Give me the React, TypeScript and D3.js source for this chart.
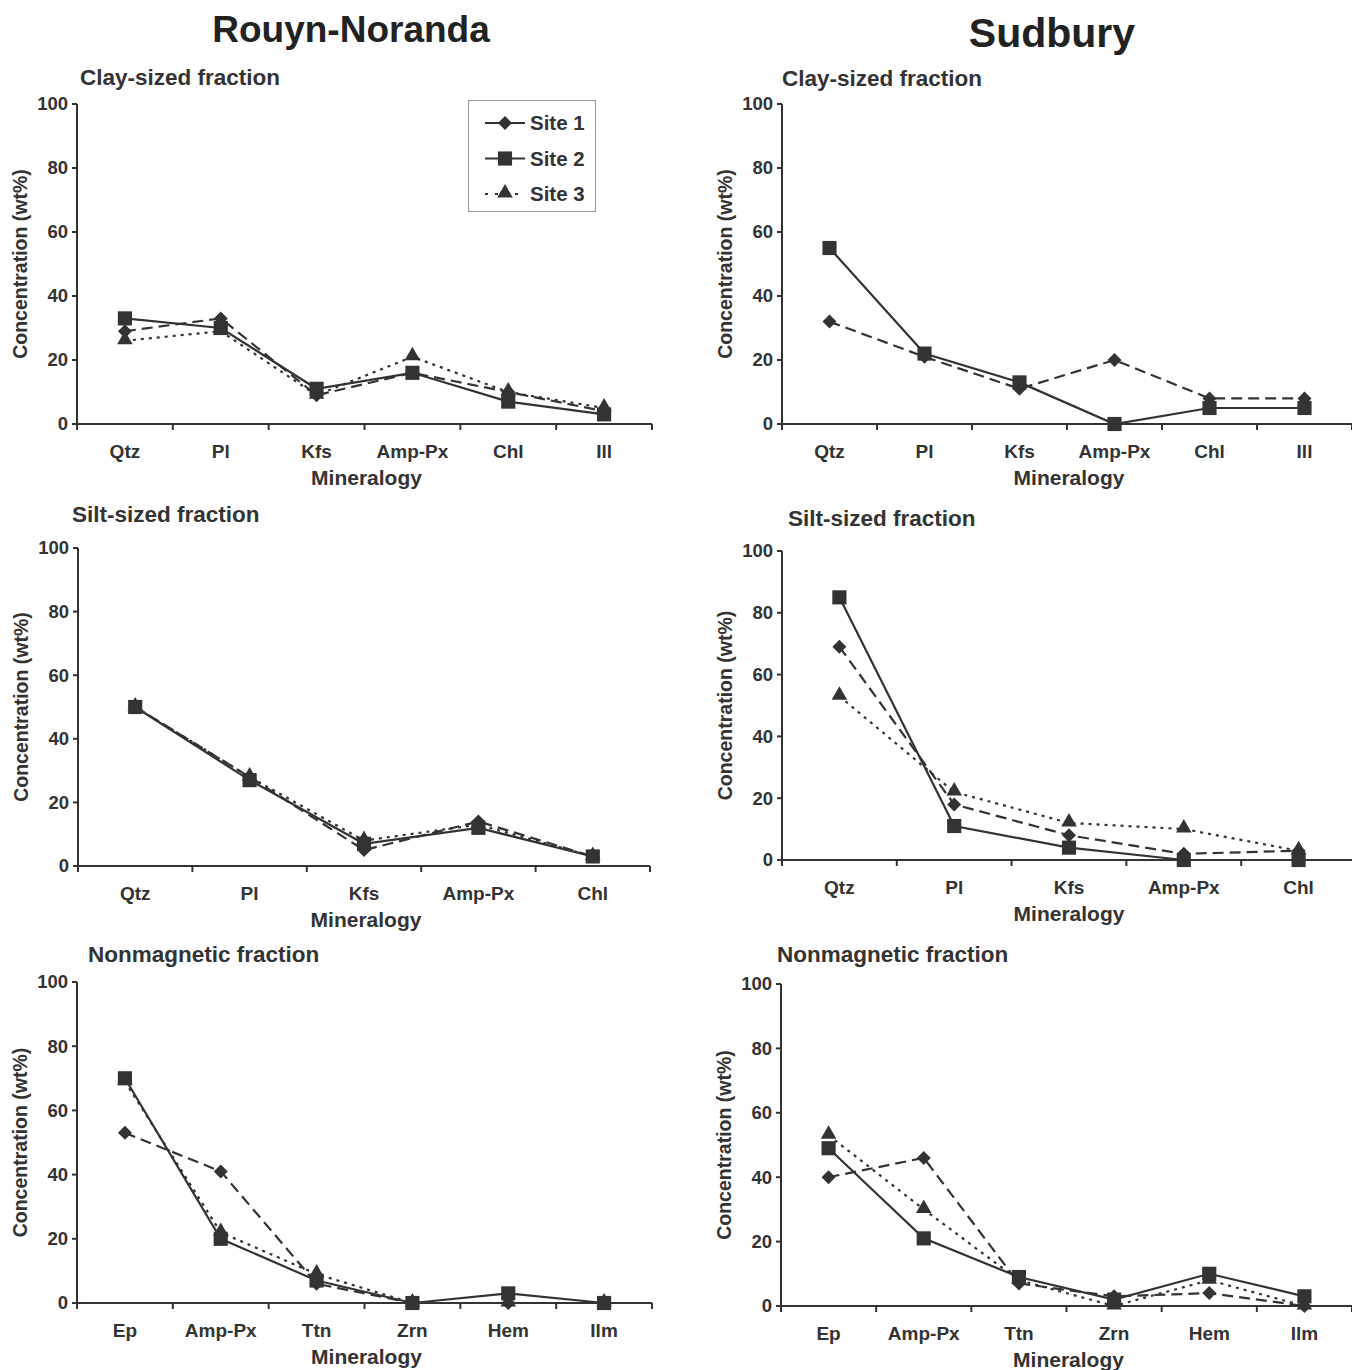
import * as d3 from "d3";
import React from "react";

// category labels
const clayMinerals = ["Qtz", "Pl", "Kfs", "Amp-Px", "Chl", "Ill"];
const siltMinerals = ["Qtz", "Pl", "Kfs", "Amp-Px", "Chl"];
const nonmagMinerals = ["Ep", "Amp-Px", "Ttn", "Zrn", "Hem", "Ilm"];
const yTicks = [0, 20, 40, 60, 80, 100];

// Rouyn-Noranda values (wt%)
const rnClaySite1 = [29, 33, 9, 16, 10, 4];
const rnClaySite2 = [33, 30, 11, 16, 7, 3];
const rnClaySite3 = [26, 29, 9, 21, 10, 5];
const rnSiltSite1 = [50, 28, 5, 14, 3];
const rnSiltSite2 = [50, 27, 7, 12, 3];
const rnSiltSite3 = [50, 28, 8, 13, 3];
const rnNonmagSite1 = [53, 41, 6, 0, 0, 0];
const rnNonmagSite2 = [70, 20, 7, 0, 3, 0];
const rnNonmagSite3 = [69, 22, 9, 0, 0, 0];

// Sudbury values (wt%)
const sdClaySite1 = [32, 21, 11, 20, 8, 8];
const sdClaySite2 = [55, 22, 13, 0, 5, 5];
const sdSiltSite1 = [69, 18, 8, 2, 3];
const sdSiltSite2 = [85, 11, 4, 0, 0];
const sdSiltSite3 = [53, 22, 12, 10, 3];
const sdNonmagSite1 = [40, 46, 7, 3, 4, 0];
const sdNonmagSite2 = [49, 21, 9, 2, 10, 3];
const sdNonmagSite3 = [53, 30, 8, 0, 8, 0];

const siteNames = ["Site 1", "Site 2", "Site 3"];

const INK = "#333";
const FONT = "'Liberation Sans', Arial, sans-serif";

const seriesStyle = [
  { dash: "11,6", symbol: "diamond" },
  { dash: null, symbol: "square" },
  { dash: "3,5", symbol: "triangle" },
];

type Panel = {
  title: string;
  titleX: number;
  titleY: number;
  cats: string[];
  series: (number[] | null)[];
  x0: number;
  x1: number;
  yZero: number;
  yTop: number;
  legend?: boolean;
};

const panels: Panel[] = [
  { title: "Clay-sized fraction", titleX: 80, titleY: 85, cats: clayMinerals, series: [rnClaySite1, rnClaySite2, rnClaySite3], x0: 77, x1: 652, yZero: 424, yTop: 104, legend: true },
  { title: "Clay-sized fraction", titleX: 782, titleY: 86, cats: clayMinerals, series: [sdClaySite1, sdClaySite2, null], x0: 782, x1: 1352, yZero: 424, yTop: 104 },
  { title: "Silt-sized fraction", titleX: 72, titleY: 522, cats: siltMinerals, series: [rnSiltSite1, rnSiltSite2, rnSiltSite3], x0: 78, x1: 650, yZero: 866, yTop: 548 },
  { title: "Silt-sized fraction", titleX: 788, titleY: 526, cats: siltMinerals, series: [sdSiltSite1, sdSiltSite2, sdSiltSite3], x0: 782, x1: 1356, yZero: 860, yTop: 551 },
  { title: "Nonmagnetic fraction", titleX: 88, titleY: 962, cats: nonmagMinerals, series: [rnNonmagSite1, rnNonmagSite2, rnNonmagSite3], x0: 77, x1: 652, yZero: 1303, yTop: 982 },
  { title: "Nonmagnetic fraction", titleX: 777, titleY: 962, cats: nonmagMinerals, series: [sdNonmagSite1, sdNonmagSite2, sdNonmagSite3], x0: 781, x1: 1352, yZero: 1306, yTop: 984 },
];

function markerPath(kind: string) {
  if (kind === "square") return d3.symbol(d3.symbolSquare, 200)() ?? "";
  if (kind === "triangle") return d3.symbol(d3.symbolTriangle, 105)() ?? "";
  // diamond = square turned 45 degrees
  const r = 7;
  return `M0,${-r}L${r},0L0,${r}L${-r},0Z`;
}

function Marker({ kind, x, y }: { kind: string; x: number; y: number }) {
  const dy = kind === "triangle" ? -1 : 0;
  return <path d={markerPath(kind)} transform={`translate(${x},${y + dy})`} fill={INK} />;
}

function ChartPanel({ p }: { p: Panel }) {
  const x = d3.scaleBand<string>().domain(p.cats).range([p.x0, p.x1]).padding(0);
  const y = d3.scaleLinear().domain([0, 100]).range([p.yZero, p.yTop]);
  const cx = (c: string) => (x(c) ?? 0) + x.bandwidth() / 2;
  const line = d3
    .line<number>()
    .x((_, i) => cx(p.cats[i]))
    .y((d) => y(d));
  const bounds = p.cats.map((c) => x(c) ?? 0).concat([p.x1]);
  const drawOrder = [0, 2, 1];
  const midY = (p.yZero + p.yTop) / 2;
  const labelX = p.x0 - 57;

  return (
    <g>
      <text x={p.titleX} y={p.titleY} fontSize={22.5} fontWeight="bold" fill={INK}>
        {p.title}
      </text>

      {/* y axis */}
      <line x1={p.x0} x2={p.x0} y1={p.yTop} y2={p.yZero} stroke={INK} strokeWidth={2} />
      {yTicks.map((t) => (
        <g key={t}>
          <line x1={p.x0 - 5} x2={p.x0} y1={y(t)} y2={y(t)} stroke={INK} strokeWidth={2} />
          <text x={p.x0 - 9} y={y(t)} dy="0.35em" textAnchor="end" fontSize={18.5} fontWeight="bold" fill={INK}>
            {t}
          </text>
        </g>
      ))}
      <text
        transform={`translate(${labelX},${midY}) rotate(-90)`}
        textAnchor="middle"
        dy="0.35em"
        fontSize={19.5}
        fontWeight="bold"
        fill={INK}
      >
        Concentration (wt%)
      </text>

      {/* x axis */}
      <line x1={p.x0} x2={p.x1} y1={p.yZero} y2={p.yZero} stroke={INK} strokeWidth={2} />
      {bounds.map((b, i) => (
        <line key={i} x1={b} x2={b} y1={p.yZero} y2={p.yZero + 6} stroke={INK} strokeWidth={2} />
      ))}
      {p.cats.map((c) => (
        <text key={c} x={cx(c)} y={p.yZero + 34} textAnchor="middle" fontSize={19} fontWeight="bold" fill={INK}>
          {c}
        </text>
      ))}
      <text x={(p.x0 + Math.min(p.x1, 1352)) / 2 + 2} y={p.yZero + 61} textAnchor="middle" fontSize={21} fontWeight="bold" fill={INK}>
        Mineralogy
      </text>

      {/* series lines */}
      {drawOrder.map((s) =>
        p.series[s] ? (
          <path
            key={`l${s}`}
            d={line(p.series[s] as number[]) ?? ""}
            fill="none"
            stroke={INK}
            strokeWidth={2.2}
            strokeDasharray={seriesStyle[s].dash ?? undefined}
          />
        ) : null
      )}
      {drawOrder.map((s) =>
        p.series[s]
          ? (p.series[s] as number[]).map((v, i) => (
              <Marker key={`m${s}-${i}`} kind={seriesStyle[s].symbol} x={cx(p.cats[i])} y={y(v)} />
            ))
          : null
      )}

      {p.legend && (
        <g>
          <rect x={468.5} y={100.5} width={127} height={111} fill="white" stroke="#999" strokeWidth={1} />
          {siteNames.map((name, i) => {
            const ly = 123 + i * 35.5;
            return (
              <g key={name}>
                <line
                  x1={485}
                  x2={525}
                  y1={ly}
                  y2={ly}
                  stroke={INK}
                  strokeWidth={2}
                  strokeDasharray={i === 2 ? "3,7" : undefined}
                />
                <Marker kind={seriesStyle[i].symbol} x={505} y={ly} />
                <text x={530} y={ly} dy="0.35em" fontSize={20.5} fontWeight="bold" fill={INK}>
                  {name}
                </text>
              </g>
            );
          })}
        </g>
      )}
    </g>
  );
}

export default function App() {
  return (
    <div style={{ position: "absolute", left: 0, top: 0 }}>
      <svg width={1352} height={1370} viewBox="0 0 1352 1370" style={{ display: "block", fontFamily: FONT, background: "white" }}>
        <text x={351} y={42} textAnchor="middle" fontSize={37} fontWeight="bold" fill="#222">
          Rouyn-Noranda
        </text>
        <text x={1052} y={47} textAnchor="middle" fontSize={41} fontWeight="bold" fill="#222">
          Sudbury
        </text>
        {panels.map((p, i) => (
          <ChartPanel key={i} p={p} />
        ))}
      </svg>
    </div>
  );
}
